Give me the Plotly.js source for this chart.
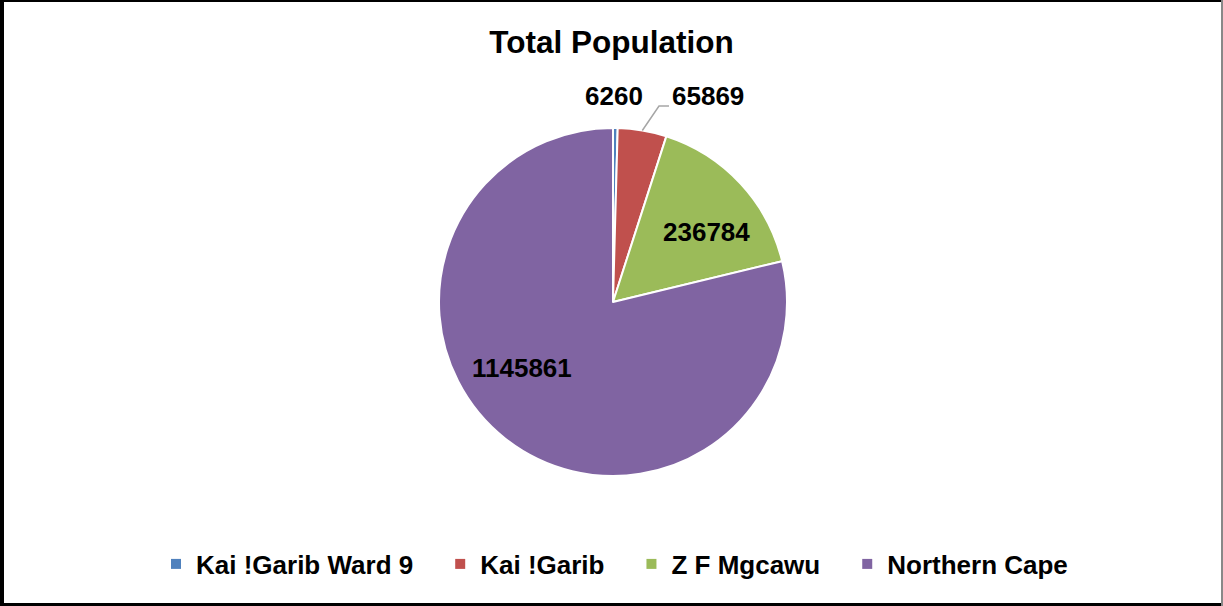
<!DOCTYPE html>
<html>
<head>
<meta charset="utf-8">
<script src="https://cdn.plot.ly/plotly-3.0.1.min.js"></script>
<style>
html,body{margin:0;padding:0;background:#fff;}
#wrap{position:relative;width:1223px;height:606px;overflow:hidden;}
#chart{position:absolute;left:0;top:0;width:1223px;height:606px;}
.b{position:absolute;background:#000;}
</style>
</head>
<body>
<div id="wrap">
<div id="chart"></div>
<div class="b" style="left:0;top:0;width:1223px;height:2px;"></div>
<div class="b" style="left:0;top:0;width:4px;height:606px;"></div>
<div class="b" style="left:0;top:603px;width:1223px;height:3px;"></div>
<div class="b" style="left:1221px;top:0;width:2px;height:606px;background:#888;"></div>
</div>
<script>
// ---- data ----
const categories = ["Kai !Garib Ward 9", "Kai !Garib", "Z F Mgcawu", "Northern Cape"];
const values = [6260, 65869, 236784, 1145861];
const colors = ["#4F81BD", "#C0504D", "#9BBB59", "#8064A2"];

// ---- layout constants ----
const FONT = "'Liberation Sans Narrow', 'Arial Narrow', 'Liberation Sans', Arial, sans-serif";
const W = 1223, H = 606;
const cx = 613, cy = 302, r = 174;
// data label centres (pixels) as placed in the reference
const labelPos = [[614, 96], [708, 96], [706, 232], [522, 368]];
const leaderElbow = [[659, 106], [669, 106]];
const LEGEND_EXTRA = 22;
const LEGEND_SHIFT = 3;

const px = x => x / W;
const py = y => 1 - y / H;

const total = values.reduce((a, b) => a + b, 0);
function midAngle(i) {
  let before = 0;
  for (let k = 0; k < i; k++) before += values[k];
  return (before + values[i] / 2) / total * 2 * Math.PI; // clockwise from 12 o'clock
}

const trace = {
  type: "pie",
  labels: categories,
  values: values,
  sort: false,
  direction: "clockwise",
  rotation: 0,
  marker: {colors: colors, line: {color: "#ffffff", width: 2}},
  textinfo: "none",
  automargin: false,
  hoverinfo: "label+value",
  domain: {x: [px(cx - r), px(cx + r)], y: [py(cy + r), py(cy - r)]}
};

const annotations = values.map((v, i) => ({
  xref: "paper", yref: "paper",
  x: px(labelPos[i][0]), y: py(labelPos[i][1]),
  xanchor: "center", yanchor: "middle",
  text: String(v), showarrow: false,
  font: {family: FONT, size: 26, color: "#000000", weight: "bold"}
}));

// leader line for the Kai !Garib label, starting on the slice edge
const a1 = midAngle(1);
const sx = cx + r * Math.sin(a1), sy = cy - r * Math.cos(a1);
const shapes = [{
  type: "path", xref: "paper", yref: "paper",
  path: `M${px(sx)},${py(sy)} L${px(leaderElbow[0][0])},${py(leaderElbow[0][1])} L${px(leaderElbow[1][0])},${py(leaderElbow[1][1])}`,
  line: {color: "#A6A6A6", width: 1.5}
}];

const layout = {
  width: W, height: H,
  margin: {l: 0, r: 0, t: 0, b: 0},
  paper_bgcolor: "#ffffff",
  title: {text: "Total Population", x: 0.5, xanchor: "center", y: py(42), yanchor: "middle",
          font: {family: FONT, size: 31.5, color: "#000000", weight: "bold"}},
  showlegend: true,
  legend: {orientation: "h", x: 0.5, xanchor: "center", y: py(564), yanchor: "middle",
           font: {family: FONT, size: 26, color: "#000000", weight: "bold"},
           itemwidth: 30, bgcolor: "rgba(0,0,0,0)"},
  annotations: annotations,
  shapes: shapes,
  font: {family: FONT}
};

Plotly.newPlot("chart", [trace], layout, {displayModeBar: false, staticPlot: true}).then(gd => {
  // widen the spacing between legend entries like the reference
  const items = gd.querySelectorAll(".legend .traces");
  const n = items.length;
  items.forEach((el, i) => {
    const t = el.getAttribute("transform") || "";
    const m = t.match(/translate\(\s*([-\d.e]+)[ ,]+([-\d.e]+)\s*\)/);
    if (m) {
      const x = parseFloat(m[1]) + i * LEGEND_EXTRA - (n - 1) * LEGEND_EXTRA / 2 + LEGEND_SHIFT;
      el.setAttribute("transform", `translate(${x},${m[2]})`);
    }
    // square 10px legend key without the white outline
    el.querySelectorAll(".legendpoints path").forEach(p => {
      p.setAttribute("d", "M5,5H-5V-5H5Z");
      p.style.strokeWidth = "0px";
    });
  });
  gd.querySelectorAll(".legend .scrollbox, .legend").forEach(el => el.removeAttribute("clip-path"));
  gd.querySelectorAll(".legend [clip-path]").forEach(el => el.removeAttribute("clip-path"));
});
</script>
</body>
</html>
